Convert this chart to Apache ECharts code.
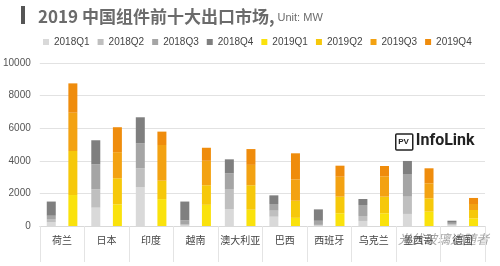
<!DOCTYPE html>
<html>
<head>
<meta charset="utf-8">
<script src="https://cdn.jsdelivr.net/npm/echarts@6/dist/echarts.min.js"></script>
<style>
  html, body { margin: 0; padding: 0; background: #fff; }
  #chart { width: 500px; height: 266px; }
</style>
</head>
<body>
<div id="chart"></div>
<script>
// top 10 export markets, MW per quarter
const categories = ['荷兰', '日本', '印度', '越南', '澳大利亚', '巴西', '西班牙', '乌克兰', '墨西哥', '德国'];
const quarters = ['2018Q1', '2018Q2', '2018Q3', '2018Q4', '2019Q1', '2019Q2', '2019Q3', '2019Q4'];
const q2018_1 = [230, 1125, 2390, 30, 1040, 570, 20, 310, 740, 40];
const q2018_2 = [200, 1125, 1150, 60, 1230, 370, 50, 305, 1060, 60];
const q2018_3 = [200, 1535, 1530, 260, 960, 410, 250, 675, 1390, 100];
const q2018_4 = [870, 1475, 1600, 1150, 860, 530, 700, 365, 800, 125];
const q2019_1 = [1900, 1330, 1650, 1300, 1000, 500, 780, 780, 880, 470];
const q2019_2 = [2700, 1600, 1130, 1200, 1500, 1050, 1020, 1020, 820, 510];
const q2019_3 = [2350, 1600, 2190, 1500, 1250, 1310, 1225, 1250, 920, 370];
const q2019_4 = [1800, 1530, 820, 800, 970, 1600, 675, 630, 920, 370];

const seriesData = [q2018_1, q2018_2, q2018_3, q2018_4, q2019_1, q2019_2, q2019_3, q2019_4];
const colors = ['#d9d9d9', '#bfbfbf', '#a5a5a5', '#7f7f7f', '#fae20c', '#f6c80a', '#f3a212', '#ef8c0c'];

const chart = echarts.init(document.getElementById('chart'));

const option = {
  animation: false,
  color: colors,
  title: {
    text: '2019 中国组件前十大出口市场,{u| Unit: MW}',
    left: 33,
    top: 3,
    textStyle: {
      fontFamily: 'Noto Sans CJK SC',
      fontSize: 17,
      fontWeight: 'bold',
      color: '#6b6b6b',
      rich: {
        u: { fontFamily: 'Liberation Sans', fontSize: 11, color: '#6b6b6b', fontWeight: 'normal', padding: [3, 0, 0, 0] }
      }
    }
  },
  legend: {
    top: 32,
    left: 38,
    itemWidth: 6,
    itemHeight: 6,
    itemGap: 8,
    icon: 'rect',
    textStyle: { fontFamily: 'Liberation Sans', fontSize: 10, color: '#444' },
    data: quarters
  },
  grid: { left: 37, right: 15, top: 63, bottom: 40 },
  xAxis: {
    type: 'category',
    data: categories,
    axisLine: { lineStyle: { color: '#d9d9d9' } },
    axisTick: { show: true, length: 36, lineStyle: { color: '#e4e4e4' } },
    axisLabel: { fontFamily: 'Noto Sans CJK SC', fontSize: 10, color: '#444', margin: 9, interval: 0 }
  },
  yAxis: {
    type: 'value',
    min: 0,
    max: 10000,
    interval: 2000,
    axisLine: { show: false },
    axisTick: { show: false },
    splitLine: { lineStyle: { color: '#e2e2e2' } },
    axisLabel: { fontFamily: 'Liberation Sans', fontSize: 10, color: '#555', margin: 9, formatter: v => String(v) }
  },
  graphic: [
    { type: 'rect', left: 21, top: 6, shape: { width: 4, height: 18 }, style: { fill: '#555' } },
    {
      type: 'group',
      left: 395,
      top: 133,
      children: [
        { type: 'rect', shape: { x: 0, y: 0, width: 17, height: 16, r: 1 }, style: { fill: '#fff', stroke: '#222', lineWidth: 1.5 } },
        { type: 'text', x: 2.5, y: 4, style: { text: 'PV', fontFamily: 'Liberation Sans', fontSize: 8, fontWeight: 'bold', fill: '#222' } },
        { type: 'text', x: 20, y: -1, style: { text: 'InfoLink', fontFamily: 'Roboto', fontSize: 16, fontWeight: 'bold', fill: '#222' } }
      ]
    },
    { type: 'text', left: 398, top: 233, style: { text: '光伏玻璃追随者', fontFamily: 'Noto Sans CJK SC', fontSize: 13, fontStyle: 'italic', fill: 'rgba(90,90,90,0.55)' } }
  ],
  series: seriesData.map((d, i) => ({
    name: quarters[i],
    type: 'bar',
    stack: i < 4 ? '2018' : '2019',
    barWidth: 9,
    barGap: '140%',
    data: d
  }))
};

chart.setOption(option);
</script>
</body>
</html>
